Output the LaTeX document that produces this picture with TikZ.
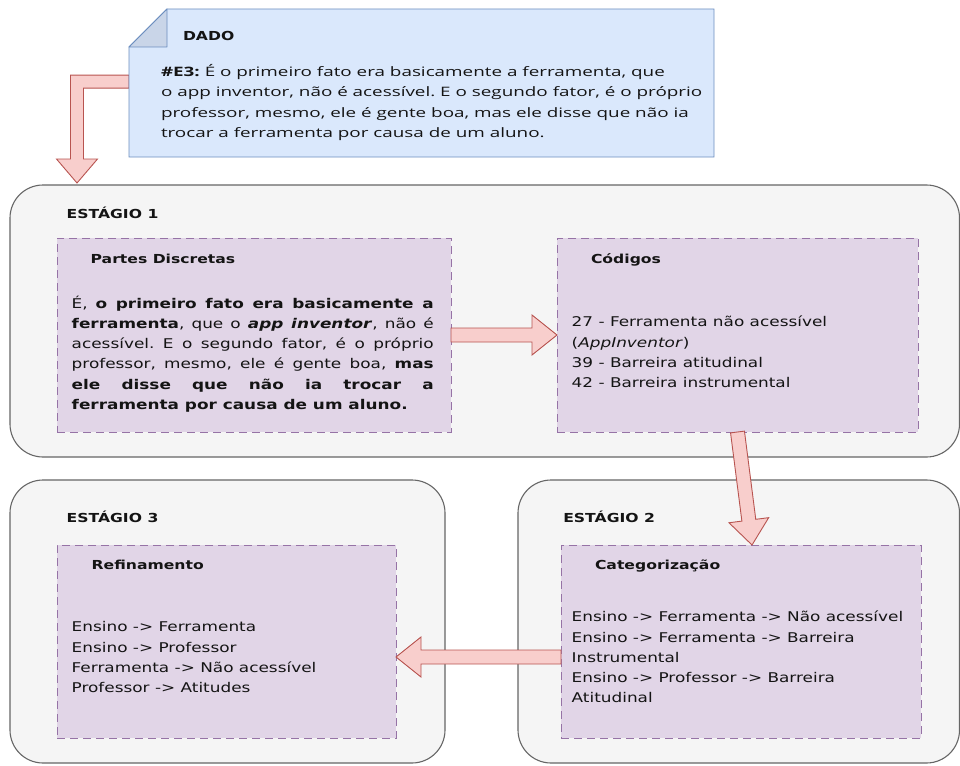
\documentclass[tikz,border=0pt]{standalone}
\usepackage{fontspec}
\setmainfont{DejaVu Sans}[FakeStretch=1.26]
\newfontfamily\notefont{Open Sans}[FakeStretch=1.45]
\usetikzlibrary{calc}
\frenchspacing
\definecolor{notefill}{HTML}{DAE8FC}
\definecolor{notedraw}{HTML}{6C8EBF}
\definecolor{foldfill}{HTML}{C9D5E8}
\definecolor{stagefill}{HTML}{F5F5F5}
\definecolor{stagedraw}{HTML}{666666}
\definecolor{boxfill}{HTML}{E1D5E7}
\definecolor{boxdraw}{HTML}{9673A6}
\definecolor{arrfill}{HTML}{F8CECC}
\definecolor{arrdraw}{HTML}{B85450}
\definecolor{txt}{HTML}{141414}
\newcommand{\bodyfont}{\fontsize{13.4}{20.3}\selectfont}
\newcommand{\headfont}{\fontsize{12.4}{15}\selectfont\bfseries}
\newcommand{\flexarr}[2]{%
  \coordinate (fa@B) at (#2);
  \coordinate (fa@C) at ($(#2)!25pt!(#1)$);
  \filldraw[flexarrow] ($(#1)!7pt!90:(#2)$) -- ($(fa@C)!7pt!90:(fa@B)$)
    -- ($(fa@C)!20pt!90:(fa@B)$) -- (fa@B) -- ($(fa@C)!20pt!-90:(fa@B)$)
    -- ($(fa@C)!7pt!-90:(fa@B)$) -- ($(#1)!7pt!-90:(#2)$) -- cycle;}
\begin{document}
\begin{tikzpicture}[x=1pt,y=-1pt,
  stage/.style={draw=stagedraw, fill=stagefill, line width=1.1pt, rounded corners=33pt, inner sep=0pt, outer sep=0pt},
  pbox/.style={draw=boxdraw, fill=boxfill, line width=0.9pt, dash pattern=on 8pt off 5pt, inner sep=0pt, outer sep=0pt},
  flexarrow/.style={draw=arrdraw, fill=arrfill, line width=0.9pt, line join=miter},
  lbl/.style={anchor=base west, inner sep=0pt, outer sep=0pt, text=txt}]
\useasboundingbox (0,0) rectangle (960,765);
% stages
\node[stage, minimum width=949.5pt, minimum height=272pt] (s1) at (484.75,321) {};
\node[stage, minimum width=441.5pt, minimum height=283pt] (s2) at (738.75,621.5) {};
\node[stage, minimum width=435pt, minimum height=283pt] (s3) at (227.5,621.5) {};
% purple boxes
\node[pbox, minimum width=394pt, minimum height=194pt] (pd) at (254,335) {};
\node[pbox, minimum width=361pt, minimum height=194pt] (cod) at (737.5,335) {};
\node[pbox, minimum width=339pt, minimum height=193pt] (ref) at (226.5,641.5) {};
\node[pbox, minimum width=360pt, minimum height=193pt] (cat) at (741,641.5) {};
% note anchor node
\node[minimum width=585pt, minimum height=148pt, inner sep=0pt, outer sep=0pt] (note) at (421.5,83) {};
% elbow arrow from note to stage 1
\coordinate (ea) at ($(note.west)+(0,-1.3)$);
\coordinate (et) at ($(s1.north west)+(67,-2)$);
\coordinate (ec) at (et |- ea);
\filldraw[flexarrow] ([shift={(0,-6.5)}]ea) -- ([shift={(-6.5,-6.5)}]ec)
  -- ([shift={(-6.5,-24)}]et) -- ([shift={(-20.5,-24)}]et) -- (et)
  -- ([shift={(20.5,-24)}]et) -- ([shift={(6.5,-24)}]et)
  -- ([shift={(6.5,6.5)}]ec) -- ([shift={(0,6.5)}]ea) -- cycle;
% note shape
\filldraw[draw=notedraw, fill=notefill, line width=0.9pt]
  ($(note.north west)+(0,38)$) -- ($(note.north west)+(38,0)$) -- (note.north east)
  -- (note.south east) -- (note.south west) -- cycle;
\filldraw[draw=notedraw, fill=foldfill, line width=0.9pt, line join=round]
  ($(note.north west)+(0,38)$) -- ($(note.north west)+(38,0)$) -- ($(note.north west)+(38,38)$) -- cycle;
% arrows between boxes
\coordinate (a2s) at ($(cat.west)+(0,15.5)$);
\coordinate (a2t) at (ref.east |- a2s);
\coordinate (a1t) at ($(cat.north)+(11,0)$);
\flexarr{pd.east}{cod.west}
\flexarr{cod.south}{a1t}
\flexarr{a2s}{a2t}
% labels
\node[lbl, font=\headfont] (l1) at (66.7,218.3) {ESTÁGIO 1};
\node[lbl, font=\headfont] (l2) at (563.3,522.7) {ESTÁGIO 2};
\node[lbl, font=\headfont] (l3) at (66.7,522.7) {ESTÁGIO 3};
\node[lbl, font=\headfont] (tpd) at (90.7,263) {Partes Discretas};
\node[lbl, font=\headfont] (tcod) at (591,263.3) {Códigos};
\node[lbl, font=\headfont] (tref) at (91.7,569.3) {Refinamento};
\node[lbl, font=\headfont] (tcat) at (595,569.3) {Categorização};
% bodies
\node[lbl] (bpd) at (71.7,308) {\parbox[t]{362pt}{\bodyfont
\makebox[362pt][s]{É, \textbf{o primeiro fato era basicamente a}}\\
\makebox[362pt][s]{\textbf{ferramenta}, que o \textbf{\textit{app inventor}}, não é}\\
\makebox[362pt][s]{acessível. E o segundo fator, é o próprio}\\
\makebox[362pt][s]{professor, mesmo, ele é gente boa, \textbf{mas}}\\
\makebox[362pt][s]{\textbf{ele disse que não ia trocar a}}\\
\textbf{ferramenta por causa de um aluno.}}};
\node[lbl] (bcod) at (571.7,326.7) {\parbox[t]{340pt}{\bodyfont
27 - Ferramenta não acessível\\
(\textit{AppInventor})\\
39 - Barreira atitudinal\\
42 - Barreira instrumental}};
\node[lbl] (bref) at (71.7,631.7) {\parbox[t]{320pt}{\bodyfont
Ensino -> Ferramenta\\
Ensino -> Professor\\
Ferramenta -> Não acessível\\
Professor -> Atitudes}};
\node[lbl] (bcat) at (571.7,621.7) {\parbox[t]{345pt}{\bodyfont
Ensino -> Ferramenta -> Não acessível\\
Ensino -> Ferramenta -> Barreira\\
Instrumental\\
Ensino -> Professor -> Barreira\\
Atitudinal}};
% note text
\node[lbl, font=\fontsize{12.4}{15}\selectfont\bfseries] (dado) at (183,40.5) {DADO};
\node[lbl] (ntxt) at (161,76.7) {\parbox[t]{580pt}{\notefont\fontsize{13}{20.3}\selectfont
\textbf{\#E3:} É o primeiro fato era basicamente a ferramenta, que\\
o app inventor, não é acessível. E o segundo fator, é o próprio\\
professor, mesmo, ele é gente boa, mas ele disse que não ia\\
trocar a ferramenta por causa de um aluno.}};
\end{tikzpicture}
\end{document}
